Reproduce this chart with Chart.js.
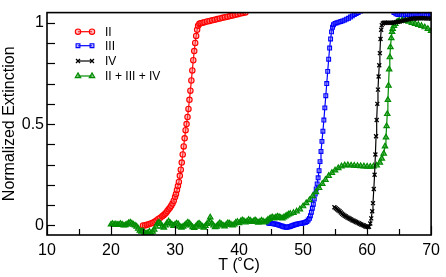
<!DOCTYPE html>
<html><head><meta charset="utf-8">
<script src="https://cdn.jsdelivr.net/npm/chart.js@4.4.0/dist/chart.umd.min.js"></script>
<style>html,body{margin:0;padding:0;background:#fff;}#wrap{width:446px;height:277px;}</style>
</head><body><div id="wrap"><canvas id="c" width="446" height="277"></canvas></div>
<script>
const seriesNames = ['II', 'III', 'IV', 'II + III + IV'];
const xTickLabels = [10, 20, 30, 40, 50, 60, 70];
const yTickLabels = [0, 0.5, 1];

const seriesII = [[25.0,0.0],[25.3,0.0],[25.6,0.004],[25.9,0.006],[26.2,0.01],[26.5,0.013],[26.8,0.018],[27.1,0.024],[27.4,0.032],[27.7,0.038],[28.0,0.045],[28.2,0.05],[28.4,0.056],[28.6,0.063],[28.8,0.071],[29.0,0.08],[29.2,0.088],[29.4,0.097],[29.6,0.108],[29.8,0.122],[30.0,0.14],[30.15,0.155],[30.3,0.175],[30.45,0.195],[30.6,0.215],[30.75,0.245],[30.9,0.275],[31.05,0.31],[31.2,0.35],[31.35,0.39],[31.5,0.43],[31.65,0.47],[31.8,0.5],[31.95,0.535],[32.1,0.575],[32.25,0.62],[32.4,0.665],[32.55,0.715],[32.7,0.765],[32.85,0.815],[33.0,0.86],[33.15,0.9],[33.3,0.935],[33.45,0.965],[33.6,0.985],[33.8,0.995],[34.0,0.998],[34.3,1.0],[34.6,1.003],[35.0,1.006],[35.4,1.009],[35.8,1.012],[36.2,1.015],[36.6,1.018],[37.0,1.021],[37.4,1.024],[37.8,1.027],[38.2,1.03],[38.6,1.033],[39.0,1.036],[39.4,1.039],[39.8,1.042],[40.2,1.045],[40.6,1.048],[41.0,1.051]];

const seriesIII = [[44.6,0.012],[44.8,0.01],[45.0,0.01],[45.2,0.009],[45.4,0.008],[45.6,0.007],[45.8,0.006],[46.0,0.004],[46.2,0.002],[46.4,0.0],[46.6,-0.002],[46.8,-0.004],[47.0,-0.006],[47.2,-0.008],[47.4,-0.009],[47.6,-0.008],[47.8,-0.006],[48.0,-0.005],[48.2,-0.002],[48.4,0.0],[48.6,0.002],[48.8,0.004],[49.0,0.006],[49.2,0.008],[49.4,0.009],[49.6,0.01],[49.8,0.011],[50.0,0.012],[50.2,0.014],[50.4,0.016],[50.6,0.02],[50.8,0.027],[51.0,0.035],[51.15,0.048],[51.3,0.065],[51.45,0.085],[51.6,0.105],[51.75,0.13],[51.9,0.155],[52.05,0.18],[52.2,0.205],[52.35,0.235],[52.5,0.27],[52.65,0.315],[52.8,0.365],[52.95,0.415],[53.1,0.465],[53.25,0.52],[53.4,0.58],[53.55,0.64],[53.7,0.7],[53.85,0.76],[54.0,0.82],[54.15,0.875],[54.3,0.92],[54.45,0.955],[54.6,0.978],[54.75,0.99],[55.0,0.997],[55.3,1.0],[55.6,1.003],[55.9,1.006],[56.2,1.009],[56.5,1.013],[56.8,1.018],[57.1,1.022],[57.4,1.028],[57.7,1.034],[58.0,1.04],[58.3,1.045],[58.6,1.05],[59.0,1.058],[59.5,1.066],[60.0,1.072],[61.0,1.078],[62.0,1.078],[63.0,1.072],[63.8,1.06],[64.2,1.05],[64.5,1.044],[64.8,1.04],[65.1,1.042],[65.4,1.039],[65.7,1.037],[66.0,1.041],[66.3,1.044],[66.6,1.04],[66.9,1.037],[67.2,1.04],[67.5,1.043],[67.8,1.04],[68.1,1.036],[68.4,1.038],[68.7,1.042],[69.0,1.04],[69.3,1.037],[69.6,1.04],[69.9,1.042],[70.0,1.04]];

const seriesIV = [[54.9,0.09],[55.1,0.085],[55.3,0.08],[55.5,0.075],[55.7,0.07],[55.9,0.064],[56.1,0.058],[56.3,0.053],[56.5,0.048],[56.7,0.044],[56.9,0.04],[57.1,0.037],[57.3,0.033],[57.5,0.03],[57.7,0.026],[57.9,0.023],[58.1,0.02],[58.3,0.017],[58.5,0.014],[58.7,0.011],[58.9,0.008],[59.1,0.005],[59.3,0.002],[59.5,0.0],[59.7,-0.004],[59.9,-0.006],[60.1,-0.008],[60.3,-0.006],[60.5,0.01],[60.65,0.035],[60.8,0.07],[60.92,0.11],[61.05,0.18],[61.17,0.25],[61.3,0.35],[61.4,0.44],[61.5,0.52],[61.6,0.6],[61.7,0.67],[61.8,0.735],[61.9,0.79],[62.0,0.85],[62.1,0.92],[62.2,0.965],[62.3,0.988],[62.45,0.996],[62.6,1.0],[62.8,1.0],[63.0,1.0],[63.3,1.0],[63.6,1.0],[63.9,1.0],[64.2,1.001],[64.5,1.003],[64.8,1.005],[65.1,1.006],[65.4,1.008],[65.7,1.011],[66.0,1.013],[66.3,1.016],[66.6,1.018],[66.9,1.02],[67.2,1.021],[67.5,1.021],[67.8,1.021],[68.1,1.022],[68.4,1.022],[68.7,1.022],[69.0,1.022],[69.3,1.021],[69.6,1.021],[70.0,1.02]];

const seriesAll = [[20.0,0.005],[20.25,0.008],[20.5,0.004],[20.75,0.006],[21.0,0.003],[21.25,0.005],[21.5,0.008],[21.75,0.004],[22.0,0.0],[22.25,0.002],[22.5,0.006],[22.75,0.012],[23.0,0.015],[23.25,0.01],[23.5,0.004],[23.75,0.0],[24.0,-0.005],[24.25,-0.015],[24.5,-0.025],[24.75,-0.03],[25.0,-0.028],[25.25,-0.035],[25.5,-0.04],[25.75,-0.037],[26.0,-0.03],[26.25,-0.038],[26.5,-0.03],[26.75,-0.02],[27.0,-0.005],[27.25,0.01],[27.5,0.015],[27.75,0.008],[28.0,-0.005],[28.25,-0.01],[28.5,0.0],[28.75,0.012],[29.0,0.02],[29.25,0.012],[29.5,0.005],[29.75,-0.002],[30.0,0.005],[30.25,0.01],[30.5,0.006],[30.75,-0.005],[31.0,-0.01],[31.25,-0.005],[31.5,0.0],[31.75,0.008],[32.0,0.015],[32.25,0.01],[32.5,0.0],[32.75,-0.008],[33.0,-0.012],[33.25,-0.005],[33.5,0.005],[33.75,0.01],[34.0,0.003],[34.25,-0.005],[34.5,-0.01],[34.75,-0.002],[35.0,0.008],[35.25,0.015],[35.5,0.04],[35.75,0.01],[36.0,0.0],[36.25,-0.008],[36.5,-0.005],[36.75,0.005],[37.0,0.012],[37.25,0.006],[37.5,0.0],[37.75,-0.004],[38.0,0.004],[38.25,0.012],[38.5,0.01],[38.75,0.004],[39.0,0.0],[39.25,0.006],[39.5,0.014],[39.75,0.018],[40.0,0.012],[40.25,0.02],[40.5,0.026],[40.75,0.022],[41.0,0.015],[41.25,0.02],[41.5,0.028],[41.75,0.024],[42.0,0.018],[42.25,0.02],[42.5,0.026],[42.75,0.02],[43.0,0.014],[43.25,0.018],[43.5,0.024],[43.75,0.02],[44.0,0.015],[44.25,0.02],[44.5,0.028],[44.75,0.033],[45.0,0.038],[45.25,0.04],[45.5,0.035],[45.75,0.04],[46.0,0.044],[46.25,0.042],[46.5,0.038],[46.75,0.035],[47.0,0.04],[47.25,0.045],[47.5,0.05],[47.75,0.055],[48.0,0.058],[48.5,0.062],[49.0,0.07],[49.5,0.08],[50.0,0.095],[50.5,0.11],[51.0,0.125],[51.5,0.145],[52.0,0.165],[52.5,0.185],[53.0,0.205],[53.5,0.225],[54.0,0.245],[54.5,0.26],[55.0,0.272],[55.5,0.283],[56.0,0.292],[56.5,0.297],[57.0,0.298],[57.5,0.296],[58.0,0.295],[58.5,0.294],[59.0,0.293],[59.5,0.292],[60.0,0.291],[60.5,0.29],[61.0,0.292],[61.5,0.296],[62.0,0.31],[62.3,0.33],[62.6,0.355],[62.8,0.39],[62.95,0.435],[63.05,0.49],[63.15,0.55],[63.25,0.62],[63.35,0.69],[63.45,0.77],[63.55,0.83],[63.65,0.88],[63.78,0.924],[63.9,0.955],[64.0,0.97],[64.2,0.985],[64.4,0.995],[64.7,1.005],[65.0,1.01],[65.5,1.012],[66.0,1.01],[66.5,1.006],[67.0,1.0],[67.5,0.995],[68.0,0.99],[68.5,0.985],[69.0,0.978],[69.5,0.97],[70.0,0.96]];

const toXY = s => s.map(p => ({x: p[0], y: p[1]}));

const styles = [
  {color:'#ff0000', fill:'rgba(255,110,110,0.45)', pointStyle:'circle', radius:2.7, pbw:1.1, order:3},
  {color:'#0000ff', fill:'rgba(110,110,255,0.5)', pointStyle:'rect', radius:2.7, pbw:1.1, order:2},
  {color:'#000000', fill:'#000000', pointStyle:'crossRot', radius:2.8, pbw:1.3, order:0},
  {color:'#008c00', fill:'rgba(40,160,40,0.55)', pointStyle:'triangle', radius:3.1, pbw:1.2, order:1}
];
const allSeries = [seriesII, seriesIII, seriesIV, seriesAll];

const datasets = allSeries.map((s, i) => ({
  label: seriesNames[i],
  data: toXY(s),
  borderColor: styles[i].color,
  backgroundColor: styles[i].fill,
  pointBorderColor: styles[i].color,
  pointBackgroundColor: styles[i].fill,
  pointStyle: styles[i].pointStyle,
  pointRadius: styles[i].radius,
  pointBorderWidth: styles[i].pbw,
  borderWidth: 1.2,
  tension: 0,
  order: styles[i].order,
  clip: 0
}));

const frameAndTicks = {
  id: 'frameAndTicks',
  afterDatasetsDraw(chart) {
    const ctx = chart.ctx, a = chart.chartArea;
    const xs = chart.scales.x, ys = chart.scales.y;
    ctx.save();
    ctx.strokeStyle = '#000';
    ctx.lineWidth = 1.2;
    xs.ticks.forEach(t => {
      const px = Math.round(xs.getPixelForValue(t.value)) + 0.5;
      const len = (Math.abs(t.value % 10) < 1e-6) ? 9 : 6;
      ctx.beginPath(); ctx.moveTo(px, a.bottom); ctx.lineTo(px, a.bottom - len); ctx.stroke();
    });
    ys.ticks.forEach(t => {
      const py = Math.round(ys.getPixelForValue(t.value)) + 0.5;
      ctx.beginPath(); ctx.moveTo(a.left, py); ctx.lineTo(a.left + 8, py); ctx.stroke();
    });
    ctx.lineWidth = 1.6;
    ctx.strokeStyle = '#000';
    ctx.strokeRect(a.left, a.top, a.right - a.left, a.bottom - a.top);
    ctx.restore();
  }
};

const customLegend = {
  id: 'customLegend',
  afterDraw(chart) {
    const ctx = chart.ctx;
    const rows = [31.7, 45.7, 61, 76];
    const x0 = 78, x1 = 92, tx = 105;
    ctx.save();
    chart.data.datasets.forEach((ds, i) => {
      const y = rows[i];
      ctx.strokeStyle = ds.borderColor; ctx.lineWidth = 1.2;
      ctx.beginPath(); ctx.moveTo(x0, y); ctx.lineTo(x1, y); ctx.stroke();
      const opts = {pointStyle: ds.pointStyle, radius: ds.pointRadius, rotation: 0, borderWidth: ds.pointBorderWidth};
      [x0, x1].forEach(px => {
        ctx.fillStyle = ds.pointBackgroundColor; ctx.strokeStyle = ds.pointBorderColor;
        ctx.lineWidth = ds.pointBorderWidth;
        Chart.helpers.drawPoint(ctx, opts, px, y);
      });
      ctx.fillStyle = '#000';
      ctx.font = '12px "Liberation Sans", Arial, sans-serif';
      ctx.textBaseline = 'middle'; ctx.textAlign = 'left';
      ctx.fillText(ds.label, tx, y + 0.5);
    });
    ctx.restore();
  }
};

const fontFam = '"Liberation Sans", Arial, Helvetica, sans-serif';

new Chart(document.getElementById('c'), {
  type: 'line',
  data: { datasets },
  options: {
    responsive: false,
    animation: false,
    devicePixelRatio: 1,
    layout: { padding: { top: 3, right: 9.5, left: 0, bottom: 0 } },
    plugins: { legend: { display: false }, tooltip: { enabled: false } },
    elements: { line: { fill: false } },
    scales: {
      x: {
        type: 'linear', min: 10, max: 70,
        grid: { display: false, drawTicks: false },
        border: { display: false },
        ticks: {
          stepSize: 5, includeBounds: false, maxRotation: 0, autoSkip: false,
          padding: 6, color: '#000', font: { family: fontFam, size: 16 },
          callback: v => xTickLabels.includes(v) ? String(v) : ''
        },
        title: { display: true, text: 'T (˚C)', color: '#000', font: { family: fontFam, size: 16 }, padding: { top: 0, bottom: 2 } },
        afterFit: s => { s.height = 42; }
      },
      y: {
        type: 'linear', min: -0.047, max: 1.05,
        grid: { display: false, drawTicks: false },
        border: { display: false },
        ticks: {
          stepSize: 0.1, includeBounds: false, autoSkip: false,
          padding: 3, color: '#000', font: { family: fontFam, size: 16 },
          callback: v => { const m = yTickLabels.find(t => Math.abs(t - v) < 1e-6); return m === undefined ? '' : String(m); }
        },
        title: { display: true, text: 'Normalized Extinction', color: '#000', font: { family: fontFam, size: 16 }, padding: { top: 0, bottom: 0 } },
        afterFit: s => { s.width = 47; }
      }
    }
  },
  plugins: [frameAndTicks, customLegend]
});
</script></body></html>
